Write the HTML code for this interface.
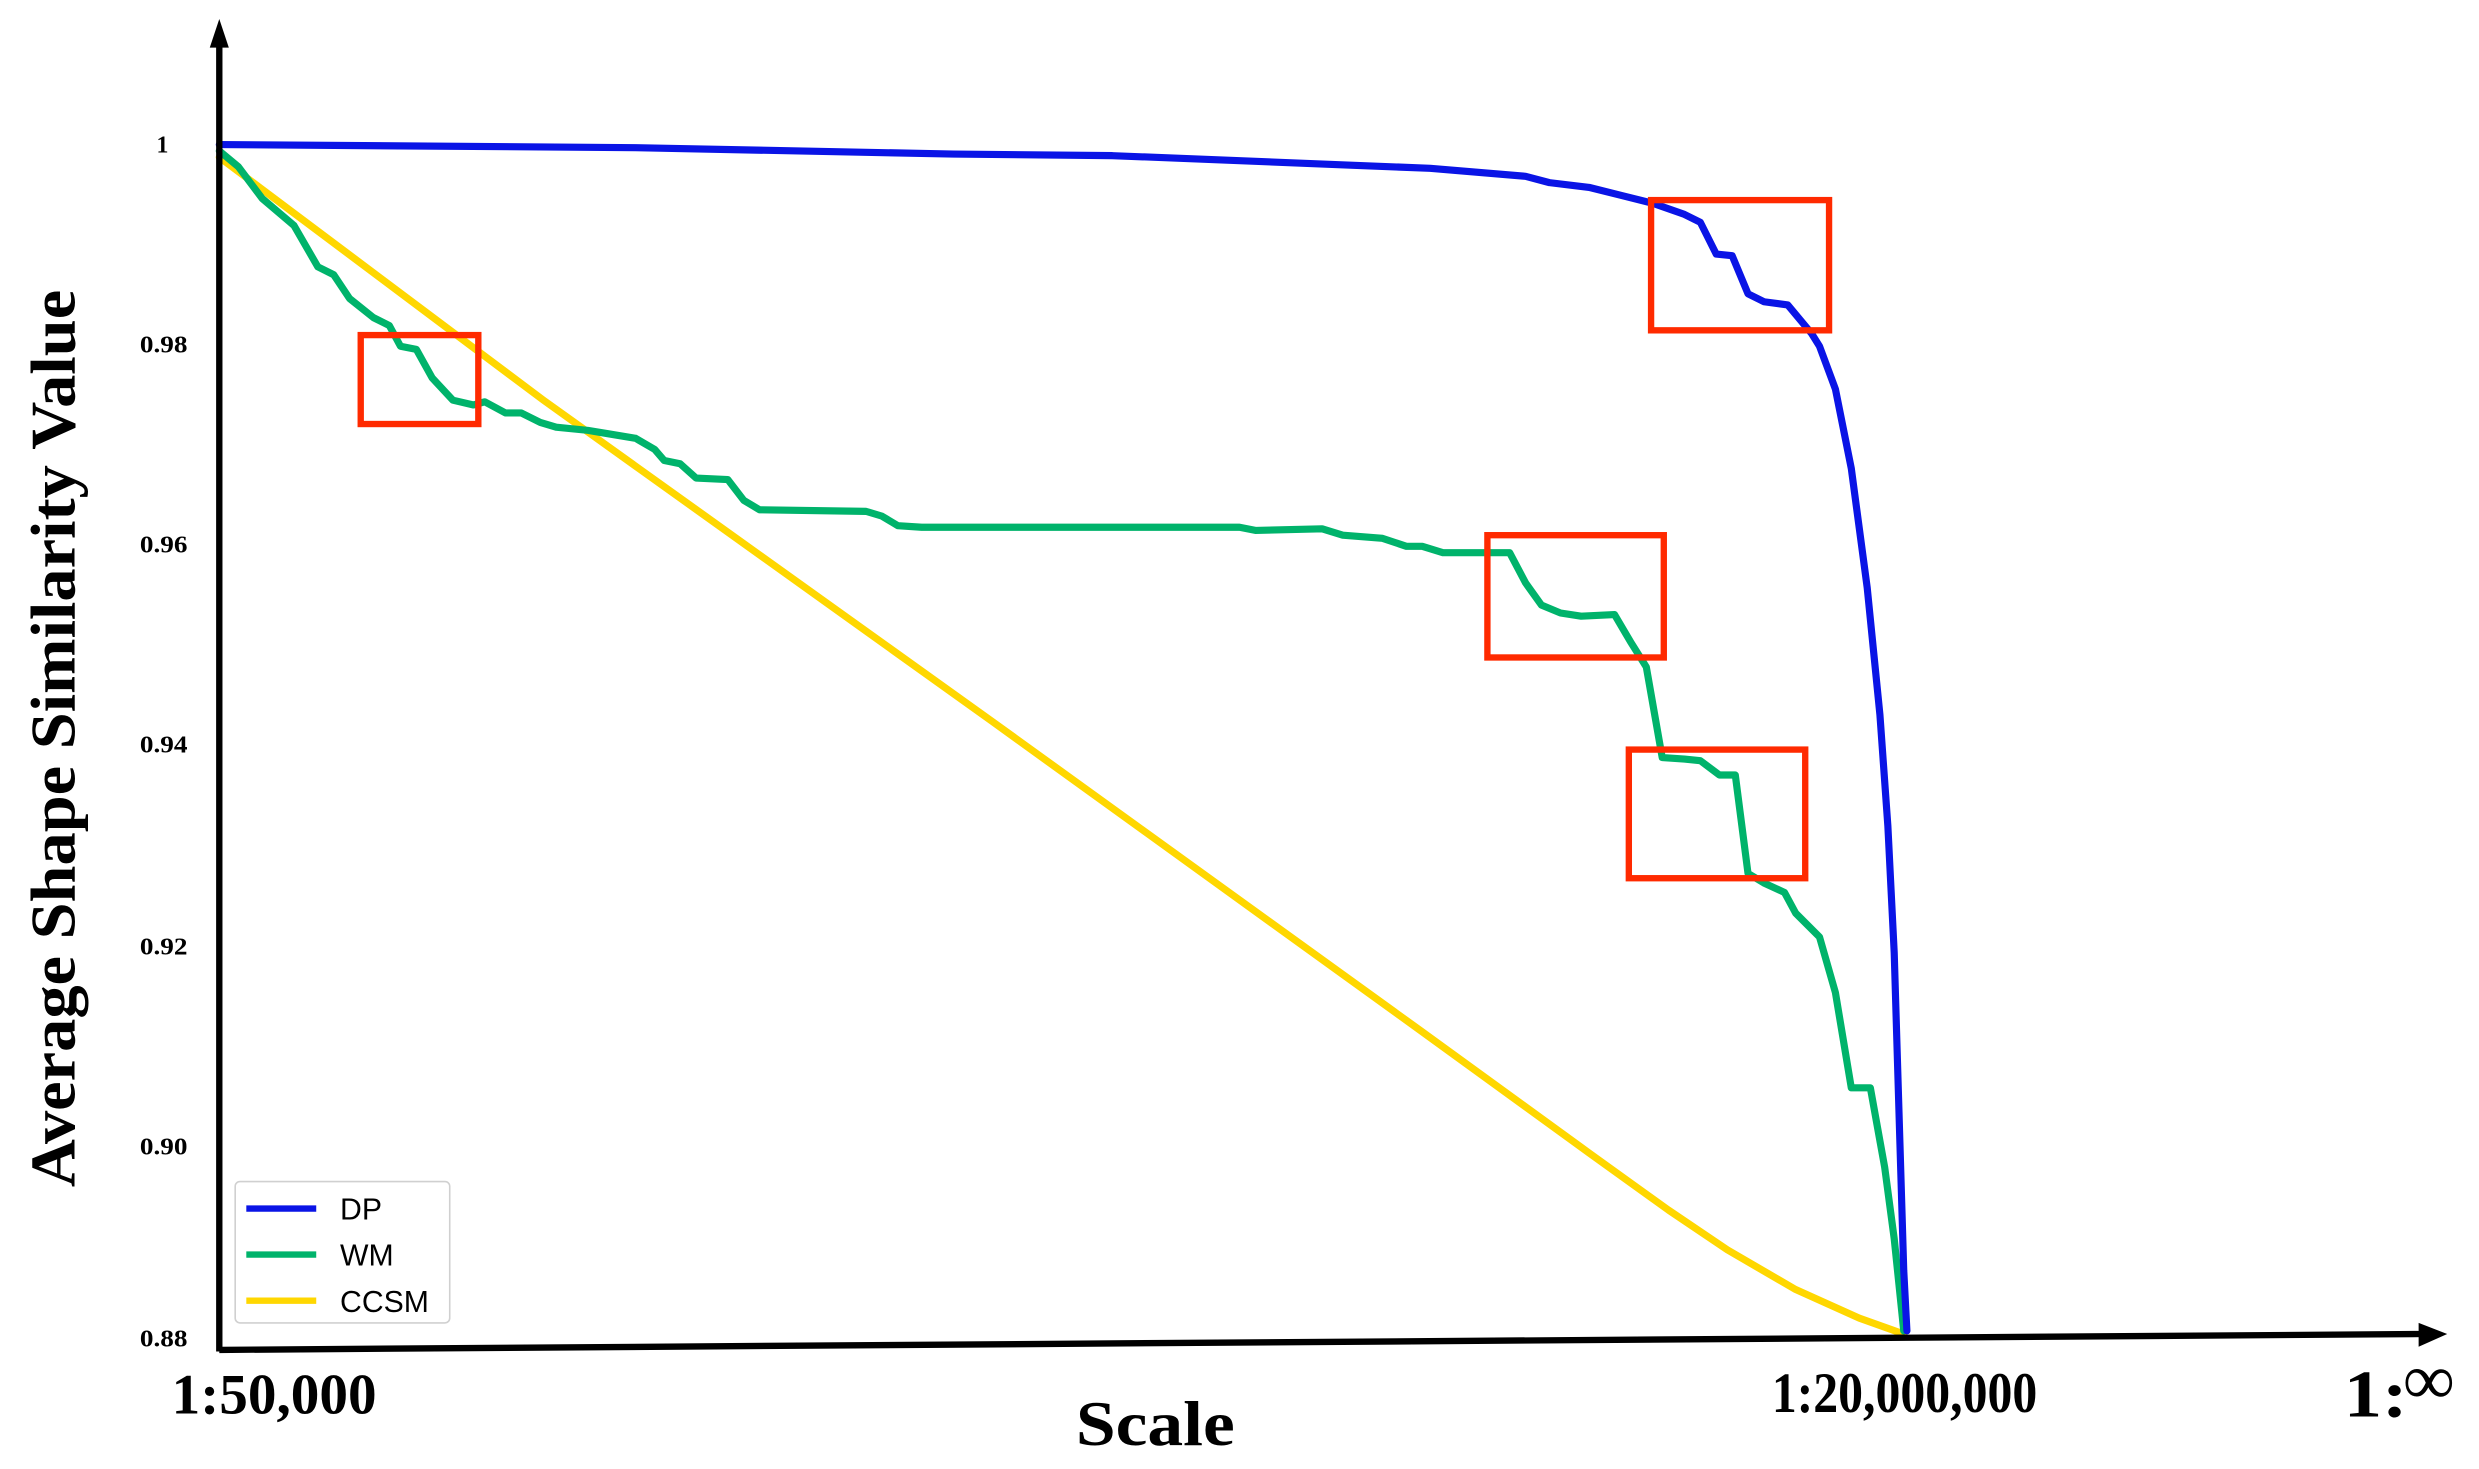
<!DOCTYPE html>
<html><head><meta charset="utf-8"><style>html,body{margin:0;padding:0;background:#fff}svg{display:block}</style></head>
<body>
<svg width="2479" height="1469" viewBox="0 0 1560 925" preserveAspectRatio="none" xmlns="http://www.w3.org/2000/svg">
<rect width="1560" height="925" fill="#fff"/>
<g font-family="Liberation Serif, serif" font-weight="bold" fill="#000">
<g font-size="15" text-anchor="end">
<text x="106" y="96">1</text>
<text x="118" y="222" textLength="30" lengthAdjust="spacingAndGlyphs">0.98</text>
<text x="118" y="348" textLength="30" lengthAdjust="spacingAndGlyphs">0.96</text>
<text x="118" y="474" textLength="30" lengthAdjust="spacingAndGlyphs">0.94</text>
<text x="118" y="601" textLength="30" lengthAdjust="spacingAndGlyphs">0.92</text>
<text x="118" y="727" textLength="30" lengthAdjust="spacingAndGlyphs">0.90</text>
<text x="118" y="848" textLength="30" lengthAdjust="spacingAndGlyphs">0.88</text>
</g>
<text transform="translate(47,465) rotate(-90)" font-size="40" text-anchor="middle" textLength="565" lengthAdjust="spacingAndGlyphs">Average Shape Similarity Value</text>
<text x="108" y="890" font-size="36" textLength="129" lengthAdjust="spacingAndGlyphs">1:50,000</text>
<text x="1115" y="889" font-size="36" textLength="167" lengthAdjust="spacingAndGlyphs">1:20,000,000</text>
<text x="1475" y="892" font-size="42" textLength="40" lengthAdjust="spacingAndGlyphs">1:</text>
<text x="1512" y="884" font-size="46" font-weight="normal">∞</text>
<text x="727" y="910" font-size="40" text-anchor="middle" textLength="100" lengthAdjust="spacingAndGlyphs">Scale</text>
</g>
<g fill="none" stroke-width="4.5" stroke-linejoin="round" stroke-linecap="round">
<polyline stroke="#ffd700" points="138,99 342,252 624,454 894,649 1000,726 1050,762 1087,787 1130,812 1170,830 1198,840"/>
<polyline stroke="#00b36b" points="138,95 150,105 165,125 185,142 200,168 210,173 220,188 235,200 245,205 252,218 262,220 272,238 285,252 298,255 305,253 318,260 328,260 340,266 350,269 370,271 382,273 400,276 412,283 418,290 428,292 438,301 458,302 468,315 478,321 545,322 555,325 565,331 580,332 780,332 790,334 832,333 845,337 870,339 885,344 895,344 908,348 950,348 960,367 970,381 982,386 995,388 1016,387 1026,404 1036,420 1046,477 1060,478 1070,479 1082,488 1092,488 1100,550 1110,556 1123,562 1130,575 1145,590 1155,625 1165,685 1177,685 1186,735 1192,780 1198,838"/>
<polyline stroke="#0a14e6" points="138,91 400,93 600,97 700,98 850,104 900,106 960,111 975,115 1000,118 1020,123 1040,128 1060,135 1070,140 1080,160 1090,161 1100,185 1110,190 1125,192 1140,210 1145,218 1155,245 1165,295 1175,370 1183,450 1188,520 1192,600 1195,700 1198,800 1200,838"/>
</g>
<g fill="none" stroke="#ff2a00" stroke-width="4">
<rect x="227" y="211" width="74" height="56"/>
<rect x="1039" y="126" width="112" height="82"/>
<rect x="936" y="337" width="111" height="77"/>
<rect x="1025" y="472" width="111" height="81"/>
</g>
<g stroke="#000" stroke-width="4" fill="#000">
<line x1="138" y1="22" x2="138" y2="851"/>
<line x1="138" y1="850" x2="1525" y2="840"/>
<polygon points="138,12 132,30 144,30" stroke="none"/>
<polygon points="1540,840 1522,833 1522,848" stroke="none"/>
</g>
<rect x="148" y="744" width="135" height="89" rx="3" fill="#fff" stroke="#d0d0d0" stroke-width="1"/>
<g stroke-width="4">
<line x1="155" y1="761" x2="199" y2="761" stroke="#0a14e6"/>
<line x1="155" y1="790" x2="199" y2="790" stroke="#00b36b"/>
<line x1="155" y1="819" x2="199" y2="819" stroke="#ffd700"/>
</g>
<g font-family="Liberation Sans, sans-serif" font-size="19" fill="#000">
<text x="214" y="768">DP</text>
<text x="214" y="797">WM</text>
<text x="214" y="826">CCSM</text>
</g>
</svg>
</body></html>
